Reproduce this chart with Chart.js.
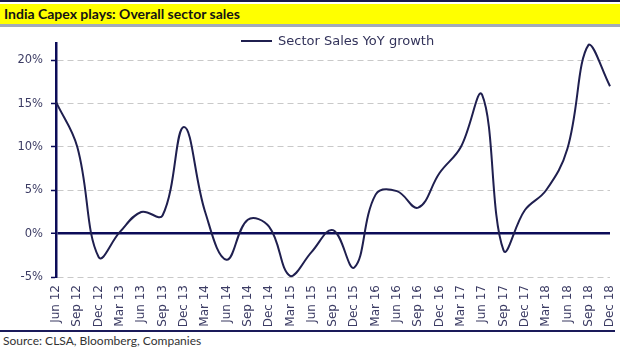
<!DOCTYPE html>
<html>
<head>
<meta charset="utf-8">
<script src="https://cdn.jsdelivr.net/npm/chart.js@4/dist/chart.umd.min.js"></script>
<style>
    body { margin: 0; background: #fff; width: 620px; height: 350px; overflow: hidden; position: relative; }
    .top-rule { position: absolute; left: 0; top: 0; width: 620px; height: 2px; background: #1a1a4a; }
    .title-band { position: absolute; left: 0; top: 4px; width: 620px; height: 20px; background: #ffff00; border-bottom: 3px solid #a2aabb; }
    .title-band span { position: absolute; left: 4px; top: 1px; font: bold 14px Lato, sans-serif; color: #141414; }
    #chartWrap { position: absolute; left: 0; top: 28px; width: 620px; height: 300px; }
    .legend { position: absolute; left: 241px; top: 33px; font: 13px "DejaVu Sans", sans-serif; color: #33335a; white-space: nowrap; }
    .legend i { display: inline-block; width: 31px; height: 2px; background: #1f1f4f; vertical-align: middle; margin-right: 6px; position: relative; top: -1px; }
    .bottom-rule { position: absolute; left: 0; top: 330px; width: 615px; height: 2px; background: #1a1a5a; }
    .source { position: absolute; left: 3px; top: 333px; font: 12px Lato, sans-serif; color: #333; }
</style>
</head>
<body>
<div class="top-rule"></div>
<div class="title-band"><span>India Capex plays: Overall sector sales</span></div>
<div id="chartWrap"><canvas id="capexChart" width="620" height="300"></canvas></div>
<div class="legend"><i></i>Sector Sales YoY growth</div>
<div class="bottom-rule"></div>
<div class="source">Source: CLSA, Bloomberg, Companies</div>

<script>
const quarters = [
    'Jun 12', 'Sep 12', 'Dec 12', 'Mar 13', 'Jun 13', 'Sep 13', 'Dec 13',
    'Mar 14', 'Jun 14', 'Sep 14', 'Dec 14', 'Mar 15', 'Jun 15', 'Sep 15',
    'Dec 15', 'Mar 16', 'Jun 16', 'Sep 16', 'Dec 16', 'Mar 17', 'Jun 17',
    'Sep 17', 'Dec 17', 'Mar 18', 'Jun 18', 'Sep 18', 'Dec 18'
];

const salesGrowth = [
    15.2, 10.0, -2.7, 0.2, 2.5, 2.1, 12.3,
    2.5, -3.0, 1.6, 0.8, -4.9, -2.1, 0.4,
    -3.9, 4.5, 4.9, 3.0, 7.0, 10.0, 16.0,
    -1.9, 2.7, 5.0, 9.8, 21.8, 17.0
];

const yTicks = [-5, 0, 5, 10, 15, 20];

const NAVY = '#0c0c58';
const LABEL_COLOR = '#3c3c64';

const ctx = document.getElementById('capexChart').getContext('2d');

new Chart(ctx, {
    type: 'line',
    data: {
        labels: quarters,
        datasets: [{
            label: 'Sector Sales YoY growth',
            data: salesGrowth,
            borderColor: '#1f1f4f',
            borderWidth: 2,
            tension: 0.4,
            pointRadius: 0,
            fill: false,
            clip: false
        }]
    },
    options: {
        responsive: false,
        animation: false,
        layout: { padding: { top: 11.4, right: 10, left: 0, bottom: 0 } },
        plugins: {
            legend: { display: false },
            tooltip: { enabled: false }
        },
        scales: {
            x: {
                grid: { display: false, drawTicks: false },
                border: { display: false },
                ticks: {
                    autoSkip: false,
                    minRotation: 90,
                    maxRotation: 90,
                    padding: 8,
                    color: LABEL_COLOR,
                    font: { family: 'DejaVu Sans', size: 12 }
                },
                afterFit: (scale) => {
                    scale.height = 51;
                    scale.paddingLeft = 0;
                    scale.paddingRight = 0;
                }
            },
            y: {
                min: -5,
                max: 22,
                afterBuildTicks: (scale) => {
                    scale.ticks = yTicks.map(v => ({ value: v }));
                },
                afterFit: (scale) => { scale.width = 56; },
                grid: {
                    color: (c) => (c.tick && c.tick.value === 0 ? NAVY : '#c9c9c9'),
                    lineWidth: (c) => (c.tick && c.tick.value === 0 ? 2.5 : 1),
                    tickColor: NAVY,
                    tickLength: 5,
                    tickWidth: 1.5,
                    tickBorderDash: []
                },
                border: {
                    display: true,
                    color: NAVY,
                    width: 2.5,
                    dash: (c) => (c.tick && c.tick.value === 0 ? [] : [6, 4])
                },
                ticks: {
                    padding: 8,
                    color: LABEL_COLOR,
                    font: { family: 'DejaVu Sans', size: 11.5 },
                    callback: (v) => v + '%'
                }
            }
        }
    }
});
</script>
</body>
</html>
